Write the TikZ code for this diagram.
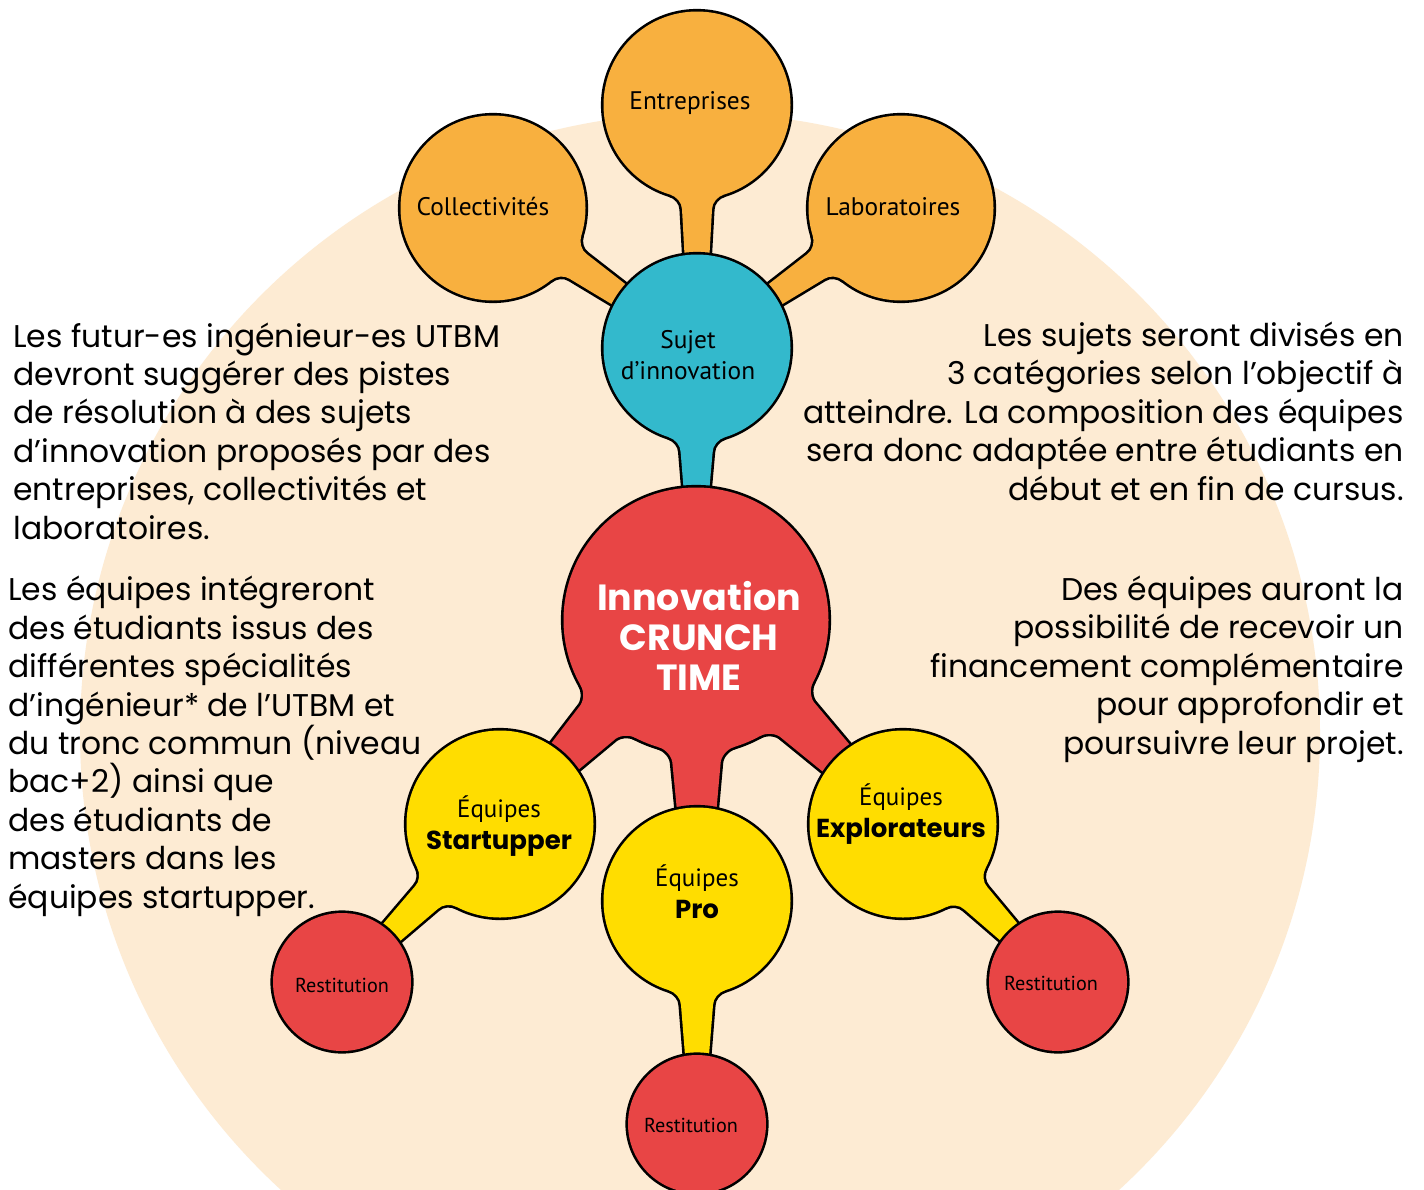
\documentclass[tikz,border=0pt]{standalone}
\usepackage{fontspec}
\setmainfont{Poppins}
\newfontfamily\lblfont{PT Sans}
\usetikzlibrary{calc}
\definecolor{peach}{HTML}{FDEBD3}
\definecolor{orangeC}{HTML}{F8B03F}
\definecolor{blueC}{HTML}{33B9CC}
\definecolor{redC}{HTML}{E84545}
\definecolor{yellowC}{HTML}{FFDD00}

% #1 style, #2 from, #3 to, #4 source radius, #5 target radius, #6 neck half width, #7 end half width, #8 fillet
\newcommand\stemto[8]{%
  \path let \p1=(#2), \p2=(#3) in \pgfextra{%
    \pgfmathparse{atan2(\y2-\y1,\x2-\x1)}\xdef\stA{\pgfmathresult}%
    \pgfmathparse{2*veclen(\x2-\x1,\y2-\y1)}\xdef\stL{\pgfmathresult}};%
  \pgfmathsetmacro\stB{asin((#6+#8)/#4)}%
  \pgfmathsetmacro\stQx{#4*cos(\stB)}%
  \pgfmathsetmacro\stQy{#4*sin(\stB)}%
  \pgfmathsetmacro\stCx{\stQx+0.55*#8*sin(\stB)}%
  \pgfmathsetmacro\stCy{\stQy-0.55*#8*cos(\stB)}%
  \pgfmathsetmacro\stEx{#4*cos(asin(#6/#4))+#8}%
  \pgfmathsetmacro\stDx{\stEx-0.55*#8}%
  \pgfmathsetmacro\stTx{\stL-#5}%
  \pgfmathsetmacro\stUx{\stL-#5+20}%
  \begin{scope}[shift={(#2)},rotate=\stA]
    \path[#1] (\stQx,\stQy) .. controls (\stCx,\stCy) and (\stDx,#6) .. (\stEx,#6)
      -- (\stTx,#7) -- (\stUx,#7) -- (\stUx,-#7) -- (\stTx,-#7) -- (\stEx,-#6)
      .. controls (\stDx,-#6) and (\stCx,-\stCy) .. (\stQx,-\stQy) -- cycle;
  \end{scope}%
}

\newcommand\grpOrange[1]{%
  \path[#1] (cColl) circle[radius=92.5];
  \path[#1] (cEntr) circle[radius=93.5];
  \path[#1] (cLabo) circle[radius=92.5];
  \stemto{#1}{cColl}{cSuj}{92.5}{93.5}{15}{12}{12}%
  \stemto{#1}{cEntr}{cSuj}{93.5}{93.5}{15}{12.5}{12}%
  \stemto{#1}{cLabo}{cSuj}{92.5}{93.5}{15}{12}{12}%
}
\newcommand\grpBlue[1]{%
  \path[#1] (cSuj) circle[radius=93.5];
  \stemto{#1}{cSuj}{cInno}{93.5}{132.5}{16}{13}{12}%
}
\newcommand\grpRed[1]{%
  \path[#1] (cInno) circle[radius=132.5];
  \stemto{#1}{cInno}{cStart}{132.5}{93.5}{24}{19}{14}%
  \stemto{#1}{cInno}{cPro}{132.5}{93.5}{24}{20}{14}%
  \stemto{#1}{cInno}{cExpl}{132.5}{93.5}{24}{19}{14}%
}
\newcommand\grpYellow[1]{%
  \path[#1] (cStart) circle[radius=93.5];
  \path[#1] (cPro) circle[radius=93.5];
  \path[#1] (cExpl) circle[radius=93.5];
  \stemto{#1}{cStart}{cRestL}{93.5}{69}{16}{12}{12}%
  \stemto{#1}{cPro}{cRestC}{93.5}{69}{16}{12}{12}%
  \stemto{#1}{cExpl}{cRestR}{93.5}{69}{16}{12}{12}%
}
\newcommand\grpRest[1]{%
  \path[#1] (cRestL) circle[radius=69];
  \path[#1] (cRestC) circle[radius=69];
  \path[#1] (cRestR) circle[radius=69];
}

\begin{document}
\begin{tikzpicture}[x=0.5pt,y=-0.5pt,
  outl/.style={draw=black,line width=2.6pt,line join=round},
  body/.style={font=\fontsize{15.7}{19.2}\selectfont,inner sep=0pt},
  lbl/.style={font=\lblfont\fontsize{12.7}{15.5}\selectfont,inner sep=0pt,align=center},
  rest/.style={font=\lblfont\fontsize{10.1}{12}\selectfont,inner sep=0pt},
  bigt/.style={font=\bfseries\fontsize{18.2}{20}\selectfont,text=white,inner sep=0pt,align=center},
  eq/.style={font=\lblfont\fontsize{12.5}{16}\selectfont,inner sep=0pt,align=center}]
\useasboundingbox (0,0) rectangle (1424,1189);
\fill[white] (0,0) rectangle (1424,1189);
\begin{scope}
\clip (0,0) rectangle (1424,1189);
\fill[peach] (700,733) circle[radius=620];
\end{scope}

\coordinate (cColl) at (493,208);
\coordinate (cEntr) at (697,105);
\coordinate (cLabo) at (901,208);
\coordinate (cSuj) at (697,348);
\coordinate (cInno) at (696,620);
\coordinate (cStart) at (500,824);
\coordinate (cPro) at (697,901);
\coordinate (cExpl) at (903,824);
\coordinate (cRestL) at (342,982);
\coordinate (cRestC) at (697,1124);
\coordinate (cRestR) at (1058,982);

\grpOrange{outl}
\grpOrange{fill=orangeC}
\grpBlue{outl}
\grpBlue{fill=blueC}
\grpRed{outl}
\grpRed{fill=redC}
\grpYellow{outl}
\grpYellow{fill=yellowC}
\grpRest{outl}
\grpRest{fill=redC}

% labels
\node[lbl] (coll) at (483,207) {Collectivités};
\node[lbl] (entr) at (690,103) {Entreprises};
\node[lbl] (labo) at (893,207) {Laboratoires};
\node[lbl] (suj) at (688,355) {Sujet\\d’innovation};
\node[bigt] (inno) at (699,636) {Innovation\\CRUNCH\\TIME};
\node[eq] (start) at (499,826) {Équipes\\{\rmfamily\bfseries\fontsize{13}{16}\selectfont Startupper}};
\node[eq] (pro) at (697,892) {Équipes\\{\rmfamily\bfseries\fontsize{13}{16}\selectfont Pro}};
\node[eq] (expl) at (901,814) {Équipes\\{\rmfamily\bfseries\fontsize{13}{16}\selectfont Explorateurs}};
\node[rest] (restl) at (342,985) {Restitution};
\node[rest] (restc) at (691,1125) {Restitution};
\node[rest] (restr) at (1051,983) {Restitution};

% texts (base anchor = last line)
\node[body,anchor=base west,align=left] (txtA) at (13,539) {Les futur-es ingénieur-es UTBM\\devront suggérer des pistes\\de résolution à des sujets\\d’innovation proposés par des\\entreprises, collectivités et\\laboratoires.};
\node[body,anchor=base west,align=left] (txtB) at (8,908) {Les équipes intégreront\\des étudiants issus des\\différentes spécialités\\d’ingénieur* de l’UTBM et\\du tronc commun (niveau\\bac+2) ainsi que\\des étudiants de\\masters dans les\\équipes startupper.};
\node[body,anchor=base east,align=right] (txtC) at (1404,500) {Les sujets seront divisés en\\3 catégories selon l’objectif à\\atteindre. La composition des équipes\\sera donc adaptée entre étudiants en\\début et en fin de cursus.};
\node[body,anchor=base east,align=right] (txtD) at (1404,754) {Des équipes auront la\\possibilité de recevoir un\\financement complémentaire\\pour approfondir et\\poursuivre leur projet.};
\end{tikzpicture}
\end{document}
